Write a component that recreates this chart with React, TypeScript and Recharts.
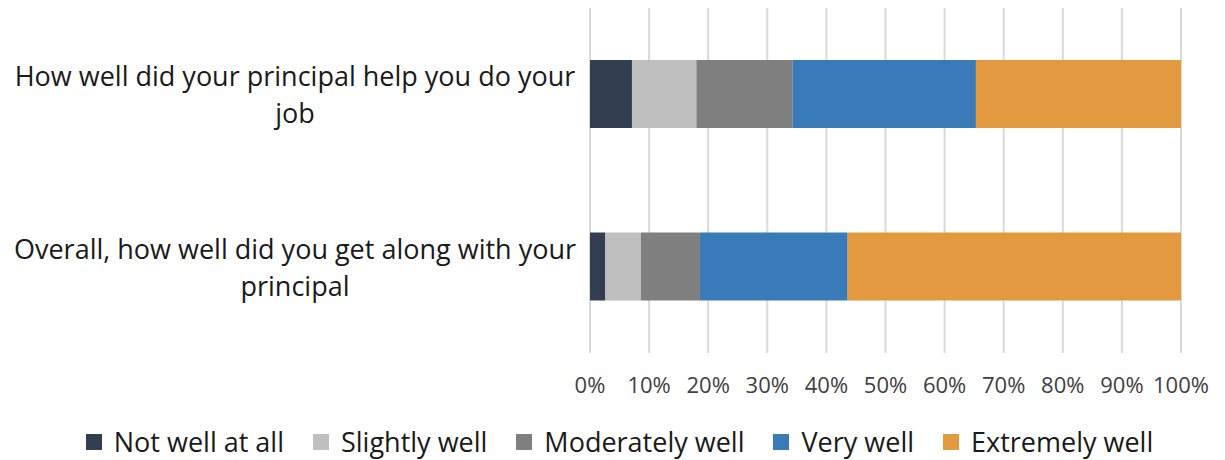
import { BarChart, Bar, XAxis, YAxis, CartesianGrid, Legend } from "recharts";

const categories = [
  "How well did your principal help you do your job",
  "Overall, how well did you get along with your principal",
];
const seriesNames = ["Not well at all", "Slightly well", "Moderately well", "Very well", "Extremely well"];
const seriesColors = ["#333F50", "#BFBFBF", "#7F7F7F", "#3A7AB8", "#E2993F"];

// percentages per category, one array per series
const notWell = [7.1, 2.6];
const slightlyWell = [10.9, 6.0];
const moderatelyWell = [16.3, 10.0];
const veryWell = [31.0, 25.0];
const extremelyWell = [34.7, 56.4];

const xTicks = [0, 10, 20, 30, 40, 50, 60, 70, 80, 90, 100];

const seriesValues = [notWell, slightlyWell, moderatelyWell, veryWell, extremelyWell];
const keys = ["s0", "s1", "s2", "s3", "s4"];

const data = categories.map((name, i) => {
  const row: Record<string, string | number> = { name };
  seriesValues.forEach((vals, k) => {
    row[keys[k]] = vals[i];
  });
  return row;
});

const FONT = "'Open Sans', sans-serif";

// break a label into lines of at most maxChars characters
const wrap = (text: string, maxChars: number) => {
  const words = text.split(" ");
  const lines: string[] = [];
  let cur = "";
  words.forEach((w) => {
    const next = cur ? cur + " " + w : w;
    if (next.length > maxChars && cur) {
      lines.push(cur);
      cur = w;
    } else {
      cur = next;
    }
  });
  if (cur) lines.push(cur);
  return lines;
};

const CategoryTick = (props: any) => {
  const { y, payload } = props;
  const lines = wrap(payload.value, 45);
  return (
    <text x={295} y={y} textAnchor="middle" fill="#1a1a1a" fontSize={27} fontFamily={FONT}>
      {lines.map((line, i) => (
        <tspan key={i} x={295} y={y - 8 + i * 37}>
          {line}
        </tspan>
      ))}
    </text>
  );
};

const renderLegend = () => (
  <div
    style={{
      display: "flex",
      justifyContent: "center",
      alignItems: "center",
      height: 57,
      paddingTop: 20,
      paddingLeft: 14,
      boxSizing: "border-box",
      fontFamily: FONT,
      fontSize: 27,
      color: "#1a1a1a",
    }}
  >
    {seriesNames.map((n, i) => (
      <div key={n} style={{ display: "flex", alignItems: "center", marginRight: i < seriesNames.length - 1 ? 29 : 0 }}>
        <span style={{ width: 16, height: 16, background: seriesColors[i], marginRight: 12, display: "inline-block" }} />
        <span>{n}</span>
      </div>
    ))}
  </div>
);

export default function App() {
  return (
    <div style={{ position: "absolute", left: 0, top: 0, background: "#fff" }}>
      <BarChart
        width={1225}
        height={460}
        data={data}
        layout="vertical"
        margin={{ top: 8, right: 44, left: 0, bottom: 0 }}
        style={{ fontFamily: FONT }}
      >
        <CartesianGrid horizontal={false} stroke="#d9d9d9" strokeWidth={2} />
        <XAxis
          type="number"
          domain={[0, 100]}
          ticks={xTicks}
          tickFormatter={(v: number) => `${v}%`}
          axisLine={false}
          tickLine={false}
          tickMargin={18}
          height={50}
          tick={{ fontSize: 22, fill: "#404040", fontFamily: FONT }}
          interval={0}
        />
        <YAxis
          type="category"
          dataKey="name"
          width={590}
          axisLine={false}
          tickLine={false}
          tick={<CategoryTick />}
        />
        <Legend
          verticalAlign="bottom"
          height={57}
          content={renderLegend}
          wrapperStyle={{ left: 0, width: 1225 }}
        />
        {keys.map((k, i) => (
          <Bar
            key={k}
            dataKey={k}
            name={seriesNames[i]}
            stackId="a"
            fill={seriesColors[i]}
            barSize={68}
            isAnimationActive={false}
          />
        ))}
      </BarChart>
    </div>
  );
}
